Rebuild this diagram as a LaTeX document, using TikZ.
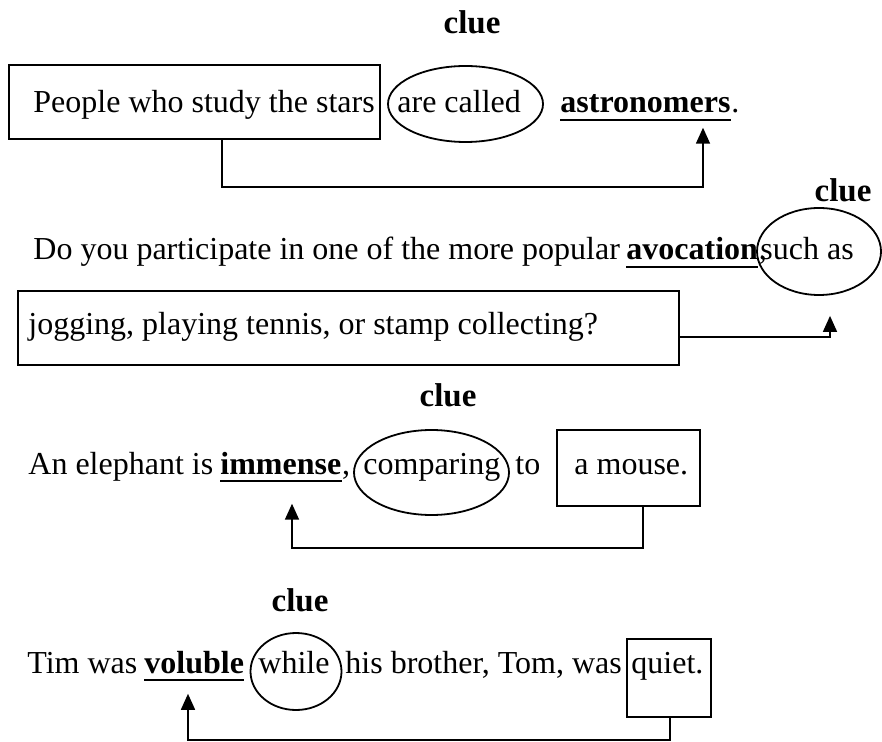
\documentclass[tikz,border=0pt]{standalone}
\usepackage{fontspec}
\setmainfont{Liberation Serif}
\usetikzlibrary{shapes.geometric,arrows.meta}

\begin{document}
\begin{tikzpicture}[
  x=0.5pt, y=-0.5pt, >={Triangle[width=7pt,length=8pt]},
  every node/.style={font=\fontsize{16}{19}\selectfont},
  word/.style={inner sep=0pt, anchor=base west},
  key/.style={word, font=\fontsize{16}{19}\selectfont\bfseries},
  clue/.style={font=\fontsize{16.5}{19}\selectfont\bfseries},
  box/.style={draw, line width=1pt, inner sep=0pt},
  ring/.style={draw, ellipse, line width=0.9pt, inner sep=0pt},
  uline/.style={line width=1pt},
  link/.style={->, line width=0.8pt}
]
  \useasboundingbox (0,0) rectangle (882,742);

  \node[clue] (clue1) at (472,22) {clue};
  \node[box, minimum width=185.5pt, minimum height=37pt] (pbox) at (194.5,102) {};
  \node[word] (people) at (33,113) {People who study the stars};
  \node[ring, minimum width=77.5pt, minimum height=38pt] (ell1) at (465.5,104) {};
  \node[word] (called) at (397,113) {are called};
  \node[key] (astro) at (560,113) {astronomers};
  \node[word] (dot1) at (astro.base east) {.};
  \draw[uline] ([yshift=-3.5pt]astro.base west) -- ([yshift=-3.5pt]astro.base east);

  \node[clue] (clue2) at (843,190) {clue};
  \node[word] (doyou) at (33,260) {Do you participate in one of the more popular};
  \node[key] (avoc) at (626,260) {avocation};
  \node[word] (comma2) at (avoc.base east) {,};
  \draw[uline] ([yshift=-3.5pt]avoc.base west) -- ([yshift=-3.5pt]avoc.base east);
  \node[ring, minimum width=62pt, minimum height=43.5pt] (ell2) at (819,251.5) {};
  \node[word] (such) at (760,260) {such as};
  \node[box, minimum width=330.5pt, minimum height=37pt] (box2) at (348.5,328) {};
  \node[word] (jog) at (28,335) {jogging, playing tennis, or stamp collecting?};

  \node[clue] (clue3) at (448,395) {clue};
  \node[word] (eleph) at (28,474) {An elephant is};
  \node[key] (imm) at (220,474) {immense};
  \node[word] (comma3) at (imm.base east) {,};
  \draw[uline] ([yshift=-3.5pt]imm.base west) -- ([yshift=-3.5pt]imm.base east);
  \node[ring, minimum width=77.5pt, minimum height=42.5pt] (ell3) at (431.5,472.5) {};
  \node[word] (comp) at (363,474) {comparing};
  \node[word] (to) at (515,474) {to};
  \node[box, minimum width=71.5pt, minimum height=38pt] (box3) at (628.5,468) {};
  \node[word] (mouse) at (574,474) {a mouse.};

  \node[clue] (clue4) at (300,600) {clue};
  \node[word] (tim) at (27,673) {Tim was};
  \node[key] (vol) at (144,673) {voluble};
  \draw[uline] ([yshift=-3.5pt]vol.base west) -- ([yshift=-3.5pt]vol.base east);
  \node[ring, minimum width=45.5pt, minimum height=38.5pt] (ell4) at (296,671.5) {};
  \node[word] (while) at (258,673) {while};
  \node[word] (bro) at (345,673) {his brother, Tom, was};
  \node[box, minimum width=42pt, minimum height=39pt] (box4) at (669,678) {};
  \node[word] (quiet) at (631,673) {quiet.};

  \coordinate (k1a) at (222,187);
  \coordinate (k1b) at (703,187);
  \coordinate (k2) at (830,337);
  \coordinate (k3a) at (643,548);
  \coordinate (k3b) at (292,548);
  \coordinate (k4a) at (670,740);
  \coordinate (k4b) at (188,740);

  \draw[link, shorten >=7pt] (pbox.south -| k1a) -- (k1a) -- (k1b) -- (astro.south -| k1b);
  \draw[link, shorten >=10pt] (box2.east |- k2) -- (k2) -- (ell2.south -| k2);
  \draw[link, shorten >=14.5pt] (box3.south -| k3a) -- (k3a) -- (k3b) -- (imm.south -| k3b);
  \draw[link, shorten >=10pt] (box4.south -| k4a) -- (k4a) -- (k4b) -- (vol.south -| k4b);
\end{tikzpicture}
\end{document}
